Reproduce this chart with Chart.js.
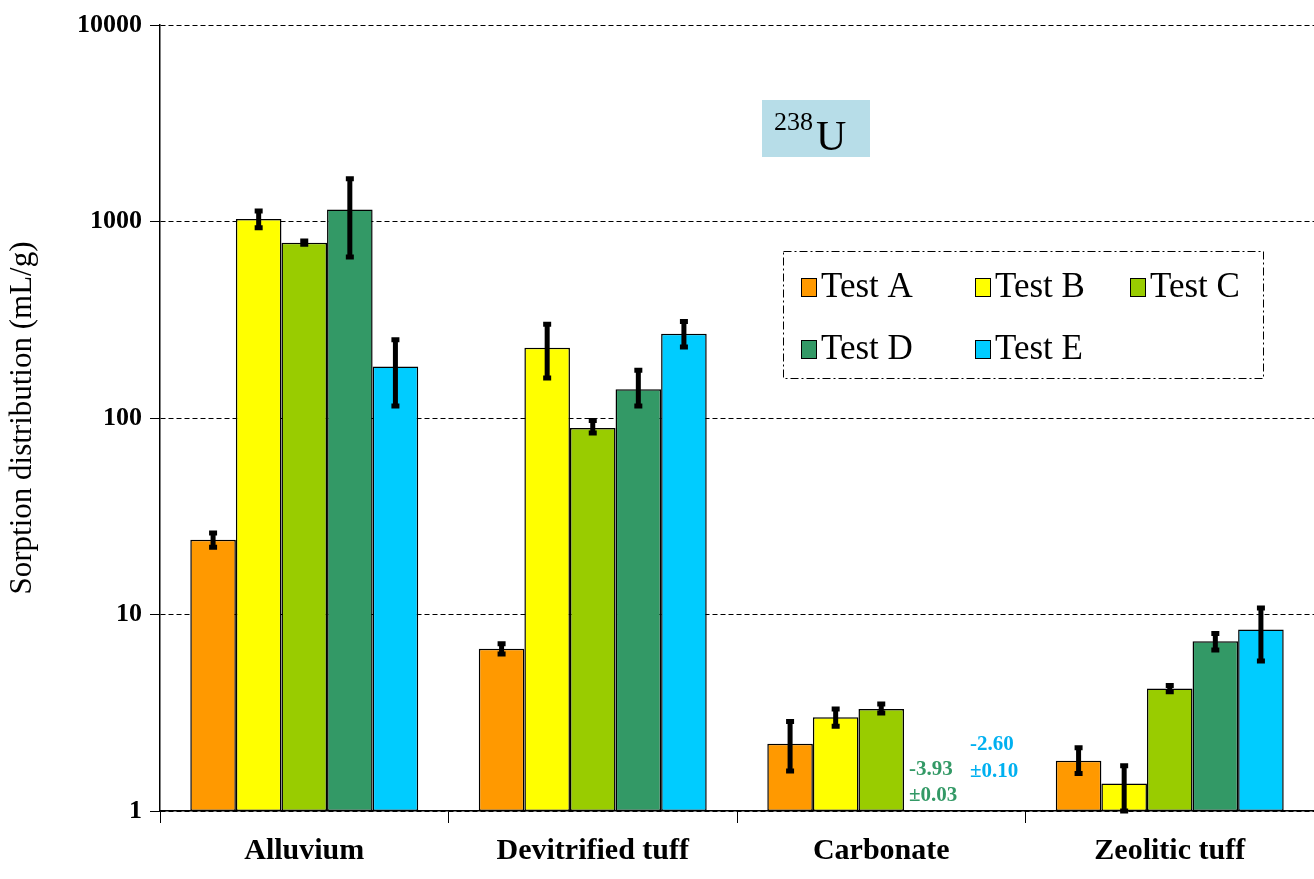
<!DOCTYPE html>
<html>
<head>
<meta charset="utf-8">
<script src="https://cdn.jsdelivr.net/npm/chart.js@4/dist/chart.umd.min.js"></script>
<style>
html,body{margin:0;padding:0;background:#fff;}
#wrap{width:1314px;height:879px;}
</style>
</head>
<body>
<div id="wrap"><canvas id="c" width="1314" height="879"></canvas></div>
<script>
const categories = ['Alluvium', 'Devitrified tuff', 'Carbonate', 'Zeolitic tuff'];
const seriesNames = ['Test A', 'Test B', 'Test C', 'Test D', 'Test E'];
const colors = ['#FF9900', '#FFFF00', '#99CC00', '#339966', '#00CCFF'];

const testA = [24, 6.7, 2.2, 1.8];
const testB = [1030, 228, 3.0, 1.38];
const testC = [780, 89, 3.3, 4.2];
const testD = [1150, 140, null, 7.3];
const testE = [183, 268, null, 8.4];

// error bar low / high
const lowA = [22, 6.3, 1.6, 1.55], highA = [26, 7.1, 2.85, 2.1];
const lowB = [930, 160, 2.7, 1.0], highB = [1130, 300, 3.3, 1.7];
const lowC = [765, 84, 3.15, 4.05], highC = [795, 97, 3.5, 4.35];
const lowD = [660, 115, null, 6.6], highD = [1650, 175, null, 8.0];
const lowE = [115, 230, null, 5.8], highE = [250, 310, null, 10.8];

const yTicks = [1, 10, 100, 1000, 10000];

const values = [testA, testB, testC, testD, testE];
const lows = [lowA, lowB, lowC, lowD, lowE];
const highs = [highA, highB, highC, highD, highE];

const serif = '"Liberation Serif", "Times New Roman", serif';

const errorBars = {
  id: 'errorBars',
  afterDatasetsDraw(chart) {
    const ctx = chart.ctx, y = chart.scales.y;
    ctx.save();
    ctx.strokeStyle = '#000';
    ctx.lineWidth = 5;
    chart.data.datasets.forEach((ds, i) => {
      chart.getDatasetMeta(i).data.forEach((bar, j) => {
        if (lows[i][j] == null) return;
        const x = bar.x, y1 = y.getPixelForValue(lows[i][j]), y2 = y.getPixelForValue(highs[i][j]);
        ctx.beginPath();
        ctx.moveTo(x, y1); ctx.lineTo(x, y2);
        ctx.moveTo(x - 4, y1); ctx.lineTo(x + 4, y1);
        ctx.moveTo(x - 4, y2); ctx.lineTo(x + 4, y2);
        ctx.stroke();
      });
    });
    ctx.restore();
  }
};

const decorations = {
  id: 'decorations',
  afterDraw(chart) {
    const ctx = chart.ctx;
    ctx.save();
    // title box
    ctx.fillStyle = '#B7DDE8';
    ctx.fillRect(762, 100, 108, 57);
    ctx.fillStyle = '#000';
    ctx.textBaseline = 'alphabetic';
    ctx.font = '26px ' + serif;
    ctx.fillText('238', 774, 130);
    ctx.font = '42px ' + serif;
    ctx.fillText('U', 816, 150);
    // legend
    ctx.setLineDash([8, 3, 2, 3]);
    ctx.lineWidth = 1;
    ctx.strokeStyle = '#000';
    ctx.strokeRect(783.5, 251.5, 480, 127);
    ctx.setLineDash([]);
    const pos = [[801, 287], [975, 287], [1130, 287], [801, 349], [975, 349]];
    ctx.font = '35px ' + serif;
    ctx.textBaseline = 'middle';
    seriesNames.forEach((n, i) => {
      const [x, yy] = pos[i];
      ctx.fillStyle = colors[i];
      ctx.fillRect(x, yy - 9, 15, 18);
      ctx.strokeRect(x + 0.5, yy - 8.5, 15, 18);
      ctx.fillStyle = '#000';
      ctx.fillText(n, x + 20, yy + 1);
    });
    // annotations for carbonate D/E
    ctx.font = 'bold 21px ' + serif;
    ctx.fillStyle = '#339966';
    ctx.fillText('-3.93', 909, 770);
    ctx.fillText('\u00b10.03', 909, 796);
    ctx.fillStyle = '#00B0F0';
    ctx.fillText('-2.60', 970, 745);
    ctx.fillText('\u00b10.10', 970, 772);
    ctx.restore();
  }
};

new Chart(document.getElementById('c'), {
  type: 'bar',
  data: {
    labels: categories,
    datasets: values.map((v, i) => ({
      label: seriesNames[i],
      data: v,
      backgroundColor: colors[i],
      borderColor: '#000',
      borderWidth: 1.5,
      borderSkipped: false,
      categoryPercentage: 0.79,
      barPercentage: 1.0
    }))
  },
  options: {
    responsive: false,
    animation: false,
    layout: { padding: { left: 0, right: 0, top: 25, bottom: 0 } },
    plugins: { legend: { display: false }, tooltip: { enabled: false } },
    scales: {
      x: {
        grid: { offset: true, drawOnChartArea: false, color: '#000', tickLength: 12, lineWidth: 1 },
        border: { color: '#000', width: 1.5 },
        ticks: { color: '#000', font: { family: serif, size: 30, weight: 'bold' }, padding: 10 },
        afterFit: s => { s.height = 68; }
      },
      y: {
        type: 'logarithmic',
        min: 1, max: 10000,
        afterBuildTicks: s => { s.ticks = yTicks.map(v => ({ value: v })); },
        afterFit: s => { s.width = 160; },
        grid: { color: '#000', lineWidth: 1, tickLength: 10 },
        border: { color: '#000', width: 1.5, dash: [5, 3] },
        ticks: {
          color: '#000', font: { family: serif, size: 26, weight: 'bold' }, padding: 8,
          callback: v => String(v)
        },
        title: { display: true, text: 'Sorption distribution (mL/g)', color: '#000', font: { family: serif, size: 31 } }
      }
    }
  },
  plugins: [errorBars, decorations]
});
</script>
</body>
</html>
